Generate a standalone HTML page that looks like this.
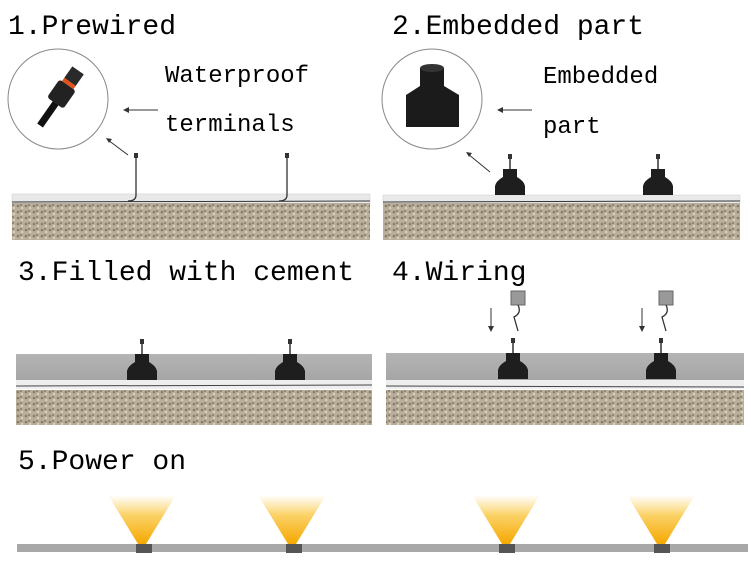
<!DOCTYPE html>
<html><head><meta charset="utf-8"><style>
html,body{margin:0;padding:0;background:#fff;}
svg{display:block}
text{font-family:"Liberation Mono","Noto Serif CJK SC",monospace;fill:#000}
</style></head><body>
<svg width="750" height="570" viewBox="0 0 750 570" xmlns="http://www.w3.org/2000/svg">
<defs>
<pattern id="grav" width="8" height="6" patternUnits="userSpaceOnUse">
<rect width="8" height="6" fill="#b8ae99"/>
<circle cx="2" cy="2" r="1.3" fill="#857d6c"/><circle cx="6" cy="4" r="1.1" fill="#dcd5c4"/><circle cx="5" cy="1" r="0.9" fill="#736b5b"/>
</pattern>
<linearGradient id="conc" x1="0" y1="0" x2="0" y2="1"><stop offset="0" stop-color="#b4b4b4"/><stop offset="1" stop-color="#a6a6a6"/></linearGradient>
<linearGradient id="beam" x1="0" y1="1" x2="0" y2="0"><stop offset="0" stop-color="#f5a800"/><stop offset="0.6" stop-color="#fbd36a"/><stop offset="1" stop-color="#fff" stop-opacity="0.9"/></linearGradient>
<g id="cone"><path d="M-7,0 L7,0 L7,8 Q14,12 15,17 L15,26 L-15,26 L-15,17 Q-14,12 -7,8 Z" fill="#1e1e1e"/><line x1="0" y1="0" x2="0" y2="-12" stroke="#333" stroke-width="1.5"/><rect x="-2" y="-15" width="4" height="5" fill="#333"/></g>
</defs>
<text x="8" y="34" font-size="28">1.Prewired</text>
<text x="392" y="34" font-size="28">2.Embedded part</text>
<text x="18" y="280" font-size="28">3.Filled with cement</text>
<text x="392" y="280" font-size="28">4.Wiring</text>
<text x="18" y="469" font-size="28">5.Power on</text>
<!-- panel 1 -->
<circle cx="58" cy="99" r="50" fill="#fff" stroke="#888" stroke-width="1"/>
<g transform="translate(58,99) rotate(-55)"><rect x="-32" y="-3" width="30" height="7" fill="#111"/><rect x="-5" y="-10" width="22" height="20" rx="3" fill="#222"/><rect x="17" y="-7" width="4" height="14" fill="#e0521a"/><rect x="21" y="-7" width="14" height="14" fill="#2a2a2a"/></g>
<text x="165" y="82" font-size="24">Waterproof</text>
<text x="165" y="131" font-size="24">terminals</text>
<line x1="158" y1="110" x2="125" y2="110" stroke="#333"/><path d="M123,110 l6,-3 v6z" fill="#333"/>
<line x1="128" y1="155" x2="108" y2="140" stroke="#333"/><path d="M106,138 l6,1 l-3,4z" fill="#333"/>
<rect x="12" y="194" width="358" height="10" fill="#e9e9e9" stroke="#ccc" stroke-width="0.5"/>
<rect x="12" y="203" width="358" height="37" fill="url(#grav)"/>
<path d="M12,202 L370,201" stroke="#333" stroke-width="1"/>
<path d="M136,156 L136,195 Q136,201 128,201" stroke="#333" fill="none" stroke-width="1.3"/><rect x="134" y="153" width="4" height="5" fill="#333"/>
<path d="M287,156 L287,195 Q287,201 279,201" stroke="#333" fill="none" stroke-width="1.3"/><rect x="285" y="153" width="4" height="5" fill="#333"/>
<!-- panel 2 -->
<circle cx="432" cy="99" r="50" fill="#fff" stroke="#888" stroke-width="1"/>
<path d="M420,68 L444,68 L444,86 L459,95 L459,127 L406,127 L406,95 L420,86 Z" fill="#1b1b1b"/><ellipse cx="432" cy="68" rx="12" ry="4" fill="#333"/>
<text x="543" y="83" font-size="24">Embedded</text>
<text x="543" y="133" font-size="24">part</text>
<line x1="532" y1="110" x2="500" y2="110" stroke="#333"/><path d="M497,110 l6,-3 v6z" fill="#333"/>
<line x1="490" y1="172" x2="468" y2="154" stroke="#333"/><path d="M466,152 l6,1 l-3,4z" fill="#333"/>
<rect x="383" y="195" width="357" height="9" fill="#e9e9e9" stroke="#ccc" stroke-width="0.5"/>
<rect x="383" y="203" width="357" height="37" fill="url(#grav)"/>
<path d="M383,202 L740,201" stroke="#333"/>
<use href="#cone" transform="translate(510,169)"/><use href="#cone" transform="translate(658,169)"/>
<!-- panel 3 -->
<rect x="16" y="354" width="356" height="26" fill="url(#conc)"/>
<rect x="16" y="380" width="356" height="9" fill="#eee"/>
<path d="M16,386 L372,385" stroke="#444"/>
<rect x="16" y="390" width="356" height="35" fill="url(#grav)"/>
<use href="#cone" transform="translate(142,354)"/><use href="#cone" transform="translate(290,354)"/>
<!-- panel 4 -->
<rect x="386" y="353" width="358" height="27" fill="url(#conc)"/>
<rect x="386" y="380" width="358" height="9" fill="#eee"/>
<path d="M386,386 L744,387" stroke="#444"/>
<rect x="386" y="390" width="358" height="35" fill="url(#grav)"/>
<use href="#cone" transform="translate(513,353)"/><use href="#cone" transform="translate(661,353)"/>
<rect x="511" y="291" width="14" height="14" fill="#999" stroke="#666"/><path d="M518,305 q4,8 -4,12 l4,14" stroke="#333" fill="none" stroke-width="1.3"/>
<rect x="659" y="291" width="14" height="14" fill="#999" stroke="#666"/><path d="M666,305 q4,8 -4,12 l4,14" stroke="#333" fill="none" stroke-width="1.3"/>
<line x1="491" y1="308" x2="491" y2="327" stroke="#333"/><path d="M488,326 l3,6 l3,-6z" fill="#333"/>
<line x1="642" y1="308" x2="642" y2="327" stroke="#333"/><path d="M639,326 l3,6 l3,-6z" fill="#333"/>
<!-- panel 5 -->
<rect x="17" y="544" width="731" height="8" fill="#a8a8a8"/>
<g fill="url(#beam)">
<path d="M108,495 L176,495 L146,544 L138,544 Z"/>
<path d="M258,495 L326,495 L296,544 L288,544 Z"/>
<path d="M472,495 L540,495 L510,544 L502,544 Z"/>
<path d="M627,495 L695,495 L665,544 L657,544 Z"/>
</g>
<g fill="#555"><rect x="136" y="544" width="16" height="9"/><rect x="286" y="544" width="16" height="9"/><rect x="499" y="544" width="16" height="9"/><rect x="654" y="544" width="16" height="9"/></g>
</svg>
</body></html>
